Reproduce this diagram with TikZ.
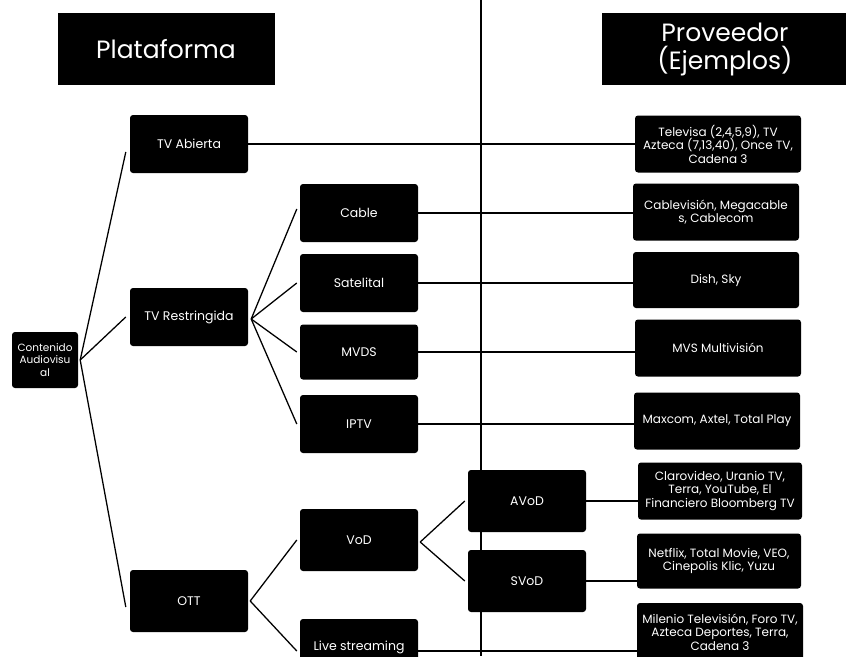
\documentclass[tikz,border=0pt]{standalone}
\usepackage{fontspec}
\setmainfont{Poppins}
\usetikzlibrary{calc}

\begin{document}
\begin{tikzpicture}[x=1pt, y=-1pt,
		caja/.style={fill=black, text=white, rounded corners=3pt, align=center, inner sep=1pt, font=\fontsize{12.5}{14}\selectfont},
		titulo/.style={caja, rounded corners=0pt, font=\fontsize{25}{28}\selectfont},
		prov/.style={caja, minimum width=166pt, minimum height=57pt, font=\fontsize{12}{13.5}\selectfont},
		nivel/.style={caja, minimum width=118pt, minimum height=58pt},
		rama/.style={line width=0.45mm}]
		%%%%% START %%%%%
		
		\useasboundingbox (0,0) rectangle (846,656);
		
		\draw[line width=0.5mm] (481,0) -- (481,656);
		
		\node[titulo, minimum width=217pt, minimum height=72pt] (plat) at (166,49) {Plataforma};
		\node[titulo, minimum width=246pt, minimum height=72pt] (prov) at (725,49) {Proveedor\\(Ejemplos)};
		
		\node[caja, minimum width=66pt, minimum height=56pt, font=\fontsize{10.5}{12.5}\selectfont] (cont) at (45,360) {Contenido\\Audiovisu\\al};
		
		\node[nivel] (tva) at (189,144) {TV Abierta};
		\node[nivel] (tvr) at (189,317) {TV Restringida};
		\node[nivel, minimum height=62pt] (ott) at (189,601) {OTT};
		
		\node[nivel] (cable) at (359,213) {Cable};
		\node[nivel] (sat) at (359,283) {Satelital};
		\node[nivel, minimum height=55pt] (mvds) at (359,352) {MVDS};
		\node[nivel] (iptv) at (359,424) {IPTV};
		\node[nivel, minimum height=62pt] (vod) at (359,540) {VoD};
		\node[nivel, minimum height=56pt] (live) at (359,647) {Live streaming};
		
		\node[nivel, minimum height=62pt] (avod) at (527,501) {AVoD};
		\node[nivel, minimum height=62pt] (svod) at (527,581) {SVoD};
		
		\node[prov] (televisa) at (718,144) {Televisa (2,4,5,9), TV\\Azteca (7,13,40), Once TV,\\Cadena 3};
		\node[prov] (cablev) at (716,212) {Cablevisión, Megacable\\s, Cablecom};
		\node[prov, minimum height=56pt] (dish) at (716,280) {Dish, Sky};
		\node[prov] (mvs) at (718,348) {MVS Multivisión};
		\node[prov] (maxcom) at (717,421) {Maxcom, Axtel, Total Play};
		\node[prov, minimum width=164pt] (claro) at (720,491) {Clarovideo, Uranio TV,\\Terra, YouTube, El\\Financiero Bloomberg TV};
		\node[prov, minimum width=164pt, minimum height=55pt] (netflix) at (719,561) {Netflix, Total Movie, VEO,\\Cinepolis Klic, Yuzu};
		\node[prov, minimum height=58pt] (milenio) at (720,632) {Milenio Televisión, Foro TV,\\Azteca Deportes, Terra,\\Cadena 3};
		
		% arbol
		\coordinate (c0) at ($(cont.east)+(2,0)$);
		\draw[rama] (c0) -- ([xshift=-4pt, yshift=-8pt]tva.west);
		\draw[rama] (c0) -- ([xshift=-4pt]tvr.west);
		\draw[rama] (c0) -- ([xshift=-4pt, yshift=-6pt]ott.west);
		
		\coordinate (c1) at ($(tvr.east)+(3,2)$);
		\draw[rama] (c1) -- ([xshift=-3pt, yshift=4pt]cable.west);
		\draw[rama] (c1) -- ([xshift=-3pt]sat.west);
		\draw[rama] (c1) -- ([xshift=-3pt]mvds.west);
		\draw[rama] (c1) -- ([xshift=-3pt]iptv.west);
		
		\coordinate (c2) at ($(ott.east)+(2,0)$);
		\draw[rama] (c2) -- ([xshift=-3pt]vod.west);
		\draw[rama] (c2) -- ([xshift=-3pt, yshift=-4pt]live.west);
		
		\coordinate (c3) at ($(vod.east)+(2,2)$);
		\draw[rama] (c3) -- ([xshift=-3pt]avod.west);
		\draw[rama] (c3) -- ([xshift=-3pt]svod.west);
		
		% proveedores
		\draw[rama] (tva.east) -- (tva.east -| televisa.west);
		\draw[rama] (cable.east) -- (cable.east -| cablev.west);
		\draw[rama] (sat.east) -- (sat.east -| dish.west);
		\draw[rama] (mvds.east) -- (mvds.east -| mvs.west);
		\draw[rama] (iptv.east) -- (iptv.east -| maxcom.west);
		\draw[rama] (avod.east) -- (avod.east -| claro.west);
		\draw[rama] (svod.east) -- (svod.east -| netflix.west);
		\draw[rama] ([yshift=-4pt]live.east) -- ([yshift=-4pt]live.east -| milenio.west);
		
		%%%%% END %%%%%
	\end{tikzpicture}
\end{document}
